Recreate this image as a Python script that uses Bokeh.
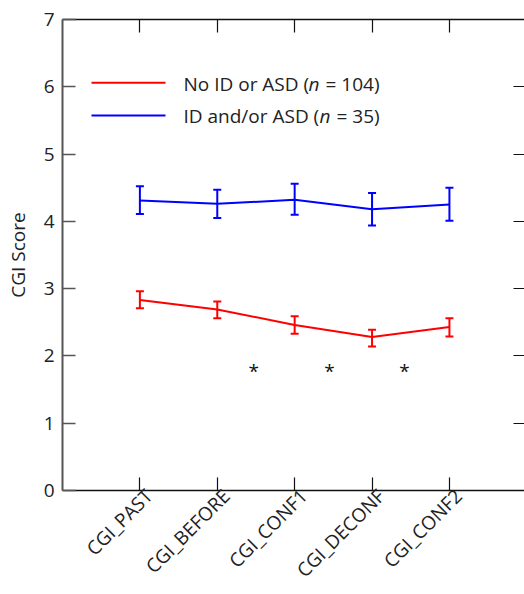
import math
from bokeh.plotting import figure
from bokeh.models import (ColumnDataSource, Whisker, TeeHead, FixedTicker, LinearAxis,
                          Label, BoxAnnotation, Range1d)
from bokeh.core.properties import value
from bokeh.embed import file_html
from bokeh.resources import INLINE

categories = ["CGI_PAST", "CGI_BEFORE", "CGI_CONF1", "CGI_DECONF", "CGI_CONF2"]
positions = [1, 2, 3, 4, 5]

no_id_mean = [2.83, 2.69, 2.46, 2.28, 2.43]
no_id_upper = [2.96, 2.81, 2.59, 2.39, 2.56]
no_id_lower = [2.71, 2.56, 2.33, 2.14, 2.29]

id_asd_mean = [4.31, 4.26, 4.32, 4.18, 4.25]
id_asd_upper = [4.52, 4.47, 4.56, 4.42, 4.50]
id_asd_lower = [4.11, 4.05, 4.10, 3.94, 4.01]

sig_x = [2.47, 3.45, 4.42]
sig_y = [1.78, 1.78, 1.78]
sig_text = ["*", "*", "*"]

y_ticks = [0, 1, 2, 3, 4, 5, 6, 7]

FONT = "Open Sans"
FS = "19px"
TXT = "#222222"
LABEL_SHIFT = 0.117  # rotated category labels sit slightly right of their ticks

p = figure(width=524, height=594, output_backend="svg", toolbar_location=None,
           x_range=Range1d(0, 5.97), y_range=Range1d(0, 7),
           min_border_left=62, min_border_right=0, min_border_top=19, min_border_bottom=104)
p.outline_line_color = None
p.xgrid.visible = False
p.ygrid.visible = False
p.background_fill_color = "white"

red = ColumnDataSource(dict(x=positions, y=no_id_mean, upper=no_id_upper, lower=no_id_lower))
blue = ColumnDataSource(dict(x=positions, y=id_asd_mean, upper=id_asd_upper, lower=id_asd_lower))

for src, col in ((red, "#ff0000"), (blue, "#0000ff")):
    p.line("x", "y", source=src, line_color=col, line_width=2)
    w = Whisker(source=src, base="x", upper="upper", lower="lower", line_color=col, line_width=2,
                upper_head=TeeHead(size=8, line_color=col, line_width=2),
                lower_head=TeeHead(size=8, line_color=col, line_width=2))
    p.add_layout(w)

sig = ColumnDataSource(dict(x=sig_x, y=sig_y, t=sig_text))
p.text("x", "y", text="t", source=sig, text_font=value(FONT), text_font_size="19px",
       text_align="center", text_baseline="middle", text_color="#111111")

# bottom axis: ticks only
xa = p.xaxis[0]
xa.ticker = FixedTicker(ticks=positions)
xa.major_tick_in = 13
xa.major_tick_out = 0
xa.minor_tick_line_color = None
xa.axis_line_color = "#111111"
xa.axis_line_width = 1.5
xa.major_tick_line_color = "#111111"
xa.major_tick_line_width = 1.2
xa.major_label_text_font_size = "1px"
xa.major_label_text_color = None
xa.major_label_standoff = 0

# second bottom axis: the rotated category labels only
label_ticks = [round(pos + LABEL_SHIFT, 3) for pos in positions]
xl = LinearAxis(ticker=FixedTicker(ticks=label_ticks),
                major_label_overrides={t: c for t, c in zip(label_ticks, categories)},
                major_label_orientation=math.pi / 4, major_label_standoff=2,
                major_tick_in=0, major_tick_out=0, major_tick_line_color=None,
                minor_tick_line_color=None, axis_line_color=None,
                major_label_text_font=FONT, major_label_text_font_size=FS,
                major_label_text_color=TXT)
p.add_layout(xl, "below")

ya = p.yaxis[0]
ya.ticker = FixedTicker(ticks=y_ticks)
ya.major_tick_in = 13
ya.major_tick_out = 0
ya.minor_tick_line_color = None
ya.axis_line_color = "#555555"
ya.axis_line_width = 2
ya.major_tick_line_color = "#555555"
ya.major_tick_line_width = 1.5
ya.major_label_text_font = FONT
ya.major_label_text_font_size = FS
ya.major_label_text_color = TXT
ya.major_label_standoff = 8
ya.axis_label = "CGI Score"
ya.axis_label_text_font = FONT
ya.axis_label_text_font_size = FS
ya.axis_label_text_font_style = "normal"
ya.axis_label_text_color = TXT
ya.axis_label_standoff = 10

top = LinearAxis(ticker=FixedTicker(ticks=positions), major_tick_in=13, major_tick_out=0,
                 minor_tick_line_color=None, axis_line_color="#111111", axis_line_width=1.5,
                 major_tick_line_color="#111111", major_tick_line_width=1.2,
                 major_label_text_font_size="1px", major_label_text_color=None,
                 major_label_standoff=0)
p.add_layout(top, "above")
right = LinearAxis(ticker=FixedTicker(ticks=y_ticks), major_tick_in=11, major_tick_out=0,
                   minor_tick_line_color=None, axis_line_color=None,
                   major_tick_line_color="#111111", major_tick_line_width=1.2,
                   major_label_text_font_size="1px", major_label_text_color=None,
                   major_label_standoff=0)
p.add_layout(right, "right")

# legend (drawn manually so that "n" can be italic); screen px from the frame's left/bottom
legend_rows = [("#ff0000", "No ID or ASD (", "= 104)"), ("#0000ff", "ID and/or ASD (", "= 35)")]
row_line_y = [407.7, 375.0]
row_text_y = [406.7, 374.5]
n_x = [246.0, 257.0]
suffix_x = [263.0, 274.0]
for (col, pre, suf), ly, ty, nx, sx in zip(legend_rows, row_line_y, row_text_y, n_x, suffix_x):
    p.add_layout(BoxAnnotation(left=29, right=103, bottom=ly - 1, top=ly + 1,
                               left_units="screen", right_units="screen",
                               top_units="screen", bottom_units="screen",
                               fill_color=col, fill_alpha=1, line_color=None))
    p.add_layout(Label(x=121, y=ty, x_units="screen", y_units="screen", text=pre,
                       text_font=FONT, text_font_size=FS, text_color=TXT, text_baseline="alphabetic"))
    p.add_layout(Label(x=nx, y=ty, x_units="screen", y_units="screen", text="n",
                       text_font=FONT, text_font_size=FS, text_color=TXT, text_font_style="italic",
                       text_baseline="alphabetic"))
    p.add_layout(Label(x=sx, y=ty, x_units="screen", y_units="screen", text=suf,
                       text_font=FONT, text_font_size=FS, text_color=TXT, text_baseline="alphabetic"))

open("out.html", "w").write(file_html(p, INLINE))
